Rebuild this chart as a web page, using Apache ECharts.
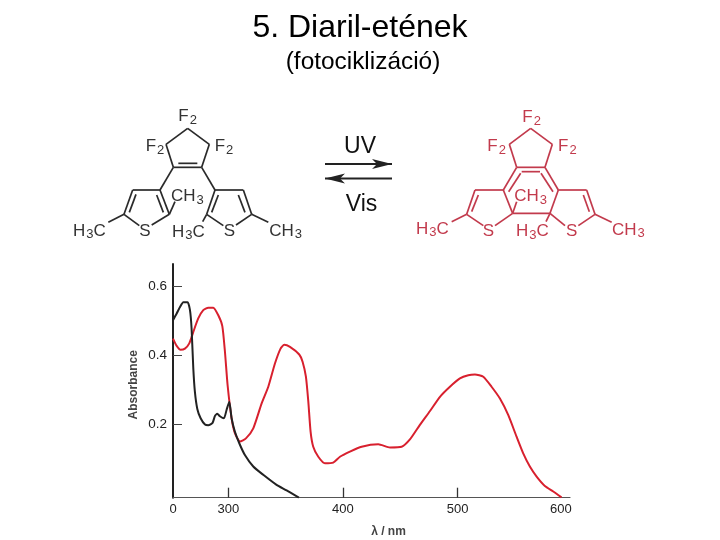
<!DOCTYPE html>
<html><head><meta charset="utf-8">
<style>html,body{margin:0;padding:0;background:#fff}#c{width:720px;height:540px}</style>
<script src="https://cdn.jsdelivr.net/npm/echarts@6/dist/echarts.min.js"></script>
</head><body><div id="c"></div>
<script>
const xTickValues = [300, 400, 500];
const xLabelValues = [251.8, 300, 400, 500, 590];
const xLabelTexts = ['0', '300', '400', '500', '600'];
const yTickValues = [0.2, 0.4, 0.6];
const blackSeries = [[251.8,0.501],[255,0.52],[257.9,0.539],[260.8,0.553],[264.5,0.553],[266.6,0.53],[268,0.477],[269.5,0.362],[270.9,0.294],[273,0.245],[275.9,0.218],[279.7,0.2],[282.6,0.198],[286.3,0.205],[288.4,0.225],[290.4,0.231],[292.7,0.224],[296.2,0.218],[298.5,0.242],[300.9,0.266],[302.9,0.218],[305.8,0.179],[309.6,0.146],[314.5,0.112],[321.8,0.079],[330.5,0.055],[342.1,0.026],[350.9,0.01],[361.6,-0.011]];
const redSeries = [[251.8,0.448],[255,0.427],[258.4,0.416],[262.2,0.419],[266,0.434],[269.5,0.467],[273.8,0.506],[278.2,0.53],[282.6,0.537],[286.9,0.537],[291.3,0.515],[294.8,0.484],[297.1,0.41],[299.4,0.314],[302.9,0.218],[305.8,0.175],[310.2,0.151],[315.4,0.16],[321.8,0.189],[329.1,0.261],[334.9,0.309],[340.7,0.376],[345.6,0.419],[348.8,0.43],[353.8,0.424],[361.9,0.402],[364.8,0.381],[367.7,0.338],[369.8,0.266],[371.8,0.179],[374.1,0.136],[378.5,0.107],[384.3,0.088],[391.5,0.09],[397.4,0.107],[406.1,0.122],[416.3,0.136],[430.8,0.143],[441,0.134],[451.2,0.136],[458.4,0.157],[467.1,0.199],[475.9,0.239],[484.6,0.28],[493.3,0.309],[502,0.333],[509.3,0.342],[515.1,0.344],[522.4,0.338],[529.6,0.309],[536.9,0.275],[544.2,0.227],[551.4,0.165],[557.2,0.117],[563,0.079],[568.9,0.05],[576.1,0.023],[583.4,0.007],[590.6,-0.01]];

const SANS = '"Liberation Sans", Arial, sans-serif';
const BLACK = '#222222', RED = '#c23a4c', CURVE_RED = '#d8202e';

// Structural formulae: bonds in zoom-crop coordinates (3x), origins given below
const leftBonds = [[383,100,318,148],[383,100,448,148],[318,148,340,217],[448,148,425,217],[340,217,425,217],[355,205,412,205],
 [340,217,300,285],[300,285,218,285],[218,285,192,358],[228,298,208,352],[192,358,238,392],[275,390,328,358],[328,358,300,285],[290,300,310,352],[328,358,345,320],[192,358,145,382],
 [425,217,465,285],[465,285,550,285],[550,285,575,358],[535,300,555,352],[575,358,528,390],[490,392,440,358],[440,358,465,285],[475,300,455,352],[440,358,428,380],[575,358,625,382]];
const leftLabels = [['F','2',383,65],['F','2',285,155],['F','2',492,155],['H','3C',88,408],['C','H3',382,305],['H','3C',385,412],['S','',255,408],['S','',508,408],['C','H3',677,408]];
const redBonds = [[632,100,568,148],[632,100,697,148],[568,148,590,217],[697,148,675,217],[590,217,675,217],[605,230,660,230],
 [590,217,550,285],[602,235,566,290],[675,217,715,285],[663,235,699,290],[550,285,578,355],[715,285,690,355],[578,355,690,355],
 [550,285,465,285],[465,285,440,358],[475,300,455,350],[440,358,490,392],[525,392,578,355],[578,355,590,320],[440,358,395,380],
 [715,285,800,285],[800,285,825,358],[790,300,808,350],[825,358,875,382],[825,358,775,392],[735,392,690,355],[690,355,678,380]];
const redLabels = [['F','2',635,68],['F','2',530,155],['F','2',742,155],['H','3C',337,403],['C','H3',632,305],['H','3C',637,410],['S','',505,408],['S','',755,408],['C','H3',925,405]];

function bonds(list, ox, oy, color){
  return list.map(b => ({type:'line', silent:true,
    shape:{x1:ox+b[0]/3,y1:oy+b[1]/3,x2:ox+b[2]/3,y2:oy+b[3]/3},
    style:{stroke:color,lineWidth:1.7}}));
}
function chemLabel(l, ox, oy, color){
  let txt;
  if (l[1]==='') txt='{a|'+l[0]+'}';
  else if (l[1]==='2') txt='{a|F}{s|2}';
  else if (l[1]==='3C') txt='{a|H}{s|3}{a|C}';
  else txt='{a|C}{a|H}{s|3}';
  return {type:'text', silent:true, x:ox+l[2]/3, y:oy+l[3]/3, z:5,
    style:{text:txt, align:'center', verticalAlign:'middle', fill:color,
      rich:{a:{fontFamily:SANS,fontSize:17,fill:color,lineHeight:20},
            s:{fontFamily:SANS,fontSize:13,fill:color,lineHeight:20,verticalAlign:'bottom',padding:[6,0,0,1]}}}};
}
function plain(text,x,y,size,color,rot,weight){
  return {type:'text',silent:true,x,y,rotation:rot||0,
    style:{text,align:'center',verticalAlign:'middle',fill:color||'#000',
      font:(weight||'normal')+' '+size+'px '+SANS}};
}
function arrow(x1,x2,y,tipRight){
  const tip = tipRight?x2:x1, back = tipRight?x2-20:x1+20, notch = tipRight?x2-15:x1+15;
  return [{type:'line',silent:true,shape:{x1,y1:y,x2,y2:y},style:{stroke:BLACK,lineWidth:2}},
   {type:'polygon',silent:true,shape:{points:[[tip,y],[back,y-5],[notch,y],[back,y+5]]},style:{fill:BLACK}}];
}

const graphics = [].concat(
  bonds(leftBonds,60,95,'#2a2a2a'),
  bonds(redBonds,320,95,RED),
  leftLabels.map(l=>chemLabel(l,60,95,'#333')),
  redLabels.map(l=>chemLabel(l,320,95,RED)),
  arrow(325,392,164,true), arrow(325,392,178.5,false),
  [plain('5. Diaril-etének',360,28,32,'#000'),
   plain('(fotociklizáció)',363,62.5,24.4,'#000'),
   plain('UV',360,147,23,'#111'),
   plain('Vis',361.5,205,23,'#111')]
);

const chart = echarts.init(document.getElementById('c'),null,{renderer:'canvas'});
chart.setOption({
  animation:false,
  backgroundColor:'#fff',
  grid:{left:173,top:264,width:397,height:233.7,containLabel:false},
  xAxis:{type:'value',min:251.8,max:598,
    name:'λ / nm',nameLocation:'middle',nameGap:28,
    nameTextStyle:{fontFamily:SANS,fontSize:12,fontWeight:'bold',color:'#444',padding:[0,0,0,34]},
    axisLine:{show:true,onZero:false,lineStyle:{color:'#555',width:1.2}},
    axisTick:{show:true,inside:true,length:10,customValues:xTickValues,lineStyle:{color:'#333',width:1.3}},
    axisLabel:{customValues:xLabelValues,color:'#222',fontFamily:SANS,fontSize:13,margin:5,
      formatter:v=>{const i=xLabelValues.indexOf(v);return i>=0?xLabelTexts[i]:'';}},
    splitLine:{show:false}},
  yAxis:{type:'value',min:-0.011,max:0.663,
    name:'Absorbance',nameLocation:'middle',nameGap:33,nameRotate:90,nameMoveOverlap:false,
    nameTextStyle:{fontFamily:SANS,fontSize:12,fontWeight:'bold',color:'#444',padding:[0,8,0,0]},
    axisLine:{show:true,onZero:false,lineStyle:{color:'#222',width:2}},
    axisTick:{show:true,inside:true,length:9,customValues:yTickValues,lineStyle:{color:'#444',width:1}},
    axisLabel:{customValues:yTickValues,color:'#222',fontFamily:SANS,fontSize:13.5,margin:6,
      formatter:v=>v.toFixed(1)},
    splitLine:{show:false}},
  graphic:graphics,
  series:[
    {name:'black',type:'line',data:blackSeries,showSymbol:false,smooth:0.2,lineStyle:{color:BLACK,width:2},z:3},
    {name:'red',type:'line',data:redSeries,showSymbol:false,smooth:0.2,lineStyle:{color:CURVE_RED,width:2},z:2}
  ]
});
</script></body></html>
